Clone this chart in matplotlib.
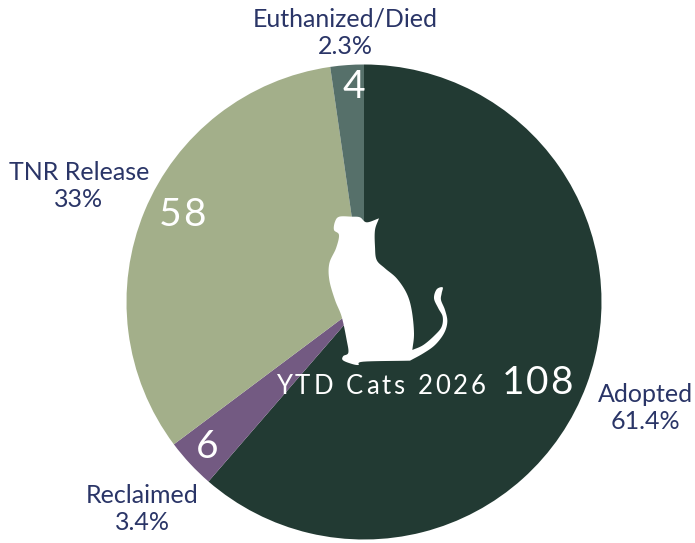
import numpy as np
import matplotlib
matplotlib.use("Agg")
import matplotlib.pyplot as plt
from matplotlib.patches import PathPatch, Wedge
from matplotlib.path import Path

categories = ["Adopted", "Reclaimed", "TNR Release", "Euthanized/Died"]
values = [108, 6, 58, 4]
percent_labels = ["61.4%", "3.4%", "33%", "2.3%"]
colors = ["#223a33", "#735a82", "#a3af8a", "#56706a"]
title = "YTD Cats 2026"

W, H = 695, 543
plt.rcParams['font.family'] = ['Lato', 'DejaVu Sans']
fig = plt.figure(figsize=(W/100, H/100), dpi=100)
ax = fig.add_axes([0, 0, 1, 1])
ax.set_xlim(0, W); ax.set_ylim(H, 0); ax.axis('off')
ax.set_aspect('equal')

cx, cy, r = 364, 302, 237.5
tot = sum(values)
ang = 0
for v, c in zip(values, colors):
    a1 = ang + v/tot*360
    ax.add_patch(Wedge((cx, cy), r, ang-90, a1-90, fc=c, ec='none'))
    ang = a1

navy = "#2a3567"
outer = [(645, 408), (142, 509), (79, 186), (345, 33)]
for cat, p, (x, y) in zip(categories, percent_labels, outer):
    ax.text(x, y, f"{cat}\n{p}", ha='center', va='center', color=navy,
            fontsize=18, linespacing=1.22)

renderer = fig.canvas.get_renderer()

def spaced(s, xc, y, size, gap):
    """Draw text with letter spacing, centred on xc, with gap in pixels."""
    probe = ax.text(0, 0, s, fontsize=size)
    full = []
    for i in range(1, len(s) + 1):
        probe.set_text(s[:i].replace(' ', '\u00a0'))
        full.append(probe.get_window_extent(renderer).width)
    probe.remove()
    starts = [0] + full[:-1]
    total = full[-1] + gap*(len(s)-1)
    x0 = xc - total/2
    for i, ch in enumerate(s):
        if ch != ' ':
            ax.text(x0 + starts[i] + gap*i, y, ch, ha='left', va='center_baseline',
                    color='white', fontsize=size, zorder=4)

inner = [(537, 380), (207, 443), (182, 212), (354, 83)]
for v, (x, y) in zip(values, inner):
    spaced(str(v), x, y, 28, 1.5)

spaced(title, 381, 384, 18.5, 3.0)

zoom_pts = np.array([(238,50),(275,50),(300,52),(320,67),(357,55),(345,90),(345,140),(350,180),(375,205),
(410,235),(440,280),(455,330),(462,400),(457,450),(490,435),(525,405),(545,380),(548,350),(535,325),
(522,295),(530,268),(548,262),(545,280),(543,300),(555,330),(562,365),(552,400),(525,435),(490,460),
(450,482),(310,485),(295,495),(270,490),(248,480),(250,468),(265,458),(260,420),(245,350),(225,300),
(208,240),(208,190),(228,145),(237,105),(222,90),(225,65)], float)
pts = zoom_pts/3 + [260, 200]
sharp = {4, 13, 29}
out = []
n = len(pts)
for i in range(n):
    p0, p1, p2, p3 = pts[(i-1) % n], pts[i], pts[(i+1) % n], pts[(i+2) % n]
    m1 = (p2-p0)/2 if i not in sharp else (p2-p1)
    m2 = (p3-p1)/2 if (i+1) % n not in sharp else (p2-p1)
    for t in np.linspace(0, 1, 8, endpoint=False):
        out.append((2*t**3-3*t**2+1)*p1 + (t**3-2*t**2+t)*m1 + (-2*t**3+3*t**2)*p2 + (t**3-t**2)*m2)
out.append(out[0])
codes = [Path.MOVETO] + [Path.LINETO]*(len(out)-2) + [Path.CLOSEPOLY]
ax.add_patch(PathPatch(Path(out, codes), fc='white', ec='none', zorder=3))

fig.savefig("out.png", dpi=100)
